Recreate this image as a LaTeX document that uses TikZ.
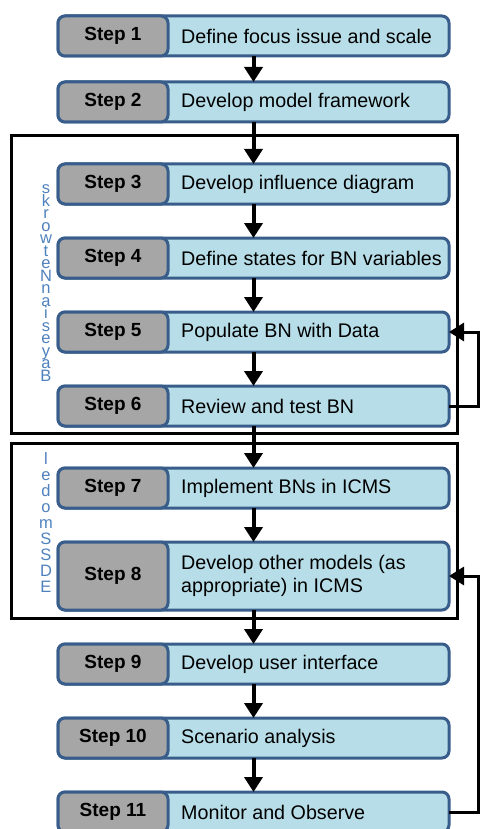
\documentclass[tikz,border=0pt]{standalone}
\usepackage{fontspec}
\setmainfont{Liberation Sans}
\usepackage{xcolor}
\usepackage{tikz}
\usetikzlibrary{arrows.meta}
\usetikzlibrary{shapes,positioning,calc}
\definecolor{boxblue}{HTML}{385D8A}
\definecolor{boxfill}{HTML}{B7DEE8}
\definecolor{taggray}{HTML}{A6A6A6}
\definecolor{sideblue}{HTML}{4F81BD}
\tikzset{flow-line/.style={line width=4pt}}
\tikzset{loop-line/.style={line width=3pt}}
\tikzset{flow-frame/.style={draw, line width=3pt}}
\tikzset{>={Triangle[width=18pt,length=15pt]}}
\tikzset{flow-box/.style={draw=boxblue, fill=boxfill, line width=3pt, inner sep=0, outer sep=0, minimum width=391pt, minimum height=40pt, rounded corners=7pt}}
\tikzset{flow-tag/.style={draw=boxblue, fill=taggray, line width=3pt, inner sep=0, outer sep=0, minimum width=110pt, minimum height=40pt, rounded corners=7pt, font=\fontsize{19}{23}\selectfont\bfseries}}
\tikzset{flow-text/.style={inner sep=0, align=left, font=\fontsize{19.7}{23.5}\selectfont}}
\tikzset{flow-side/.style={inner sep=0, align=center, text=sideblue}}

\begin{document}
\begin{tikzpicture}[]
            \useasboundingbox (0,0) rectangle (486pt,-829pt);

            \node[flow-box] (step1) at (253.5pt,-36pt) {};
            \node[flow-box, below=26pt of step1] (step2) {};
            \node[flow-box, below=42pt of step2] (step3) {};
            \node[flow-box, below=34pt of step3] (step4) {};
            \node[flow-box, below=34pt of step4] (step5) {};
            \node[flow-box, below=34pt of step5] (step6) {};
            \node[flow-box, below=42pt of step6] (step7) {};
            \node[flow-box, below=34pt of step7, minimum height=68pt] (step8) {};
            \node[flow-box, below=34pt of step8] (step9) {};
            \node[flow-box, below=34pt of step9] (step10) {};
            \node[flow-box, below=34pt of step10] (step11) {};

            \node[flow-tag, anchor=west] (tag1) at (step1.west) {Step 1};
            \node[flow-tag, anchor=west] (tag2) at (step2.west) {Step 2};
            \node[flow-tag, anchor=west] (tag3) at (step3.west) {Step 3};
            \node[flow-tag, anchor=west] (tag4) at (step4.west) {Step 4};
            \node[flow-tag, anchor=west] (tag5) at (step5.west) {Step 5};
            \node[flow-tag, anchor=west] (tag6) at (step6.west) {Step 6};
            \node[flow-tag, anchor=west] (tag7) at (step7.west) {Step 7};
            \node[flow-tag, anchor=west, minimum height=68pt] (tag8) at (step8.west) {Step 8};
            \node[flow-tag, anchor=west] (tag9) at (step9.west) {Step 9};
            \node[flow-tag, anchor=west] (tag10) at (step10.west) {Step 10};
            \node[flow-tag, anchor=west] (tag11) at (step11.west) {Step 11};

            \node[flow-text, right=13pt of tag1] (text1) {Define focus issue and scale};
            \node[flow-text, right=13pt of tag2] (text2) {Develop model framework};
            \node[flow-text, right=13pt of tag3] (text3) {Develop influence diagram};
            \node[flow-text, right=13pt of tag4] (text4) {Define states for BN variables};
            \node[flow-text, right=13pt of tag5] (text5) {Populate BN with Data};
            \node[flow-text, right=13pt of tag6] (text6) {Review and test BN};
            \node[flow-text, right=13pt of tag7] (text7) {Implement BNs in ICMS};
            \node[flow-text, right=13pt of tag8] (text8) {Develop other models (as\\appropriate) in ICMS};
            \node[flow-text, right=13pt of tag9] (text9) {Develop user interface};
            \node[flow-text, right=13pt of tag10] (text10) {Scenario analysis};
            \node[flow-text, right=13pt of tag11] (text11) {Monitor and Observe};

            \draw[flow-frame] ($(step3.north west)+(-47pt,28pt)$) rectangle ($(step6.south east)+(8pt,-7pt)$);
            \draw[flow-frame] ($(step7.north west)+(-47pt,25pt)$) rectangle ($(step8.south east)+(8pt,-8pt)$);

            \node[flow-side, font=\fontsize{16.5}{12.5}\selectfont] (bayes) at (46pt,-283pt) {s\\k\\r\\o\\w\\t\\e\\N\\n\\a\\i\\s\\e\\y\\a\\B};
            \node[flow-side, font=\fontsize{16.5}{16}\selectfont] (edss) at (46pt,-523pt) {l\\e\\d\\o\\m\\S\\S\\D\\E};

            \draw[->, flow-line] (step1) -- (step2);
            \draw[->, flow-line] (step2) -- (step3);
            \draw[->, flow-line] (step3) -- (step4);
            \draw[->, flow-line] (step4) -- (step5);
            \draw[->, flow-line] (step5) -- (step6);
            \draw[->, flow-line] (step6) -- (step7);
            \draw[->, flow-line] (step7) -- (step8);
            \draw[->, flow-line] (step8) -- (step9);
            \draw[->, flow-line] (step9) -- (step10);
            \draw[->, flow-line] (step10) -- (step11);

            \draw[->, loop-line] (step6.east) -- ++(29pt,0) |- (step5.east);
            \draw[->, loop-line] (step11.east) -- ++(29pt,0) |- (step8.east);
        \end{tikzpicture}
\end{document}
